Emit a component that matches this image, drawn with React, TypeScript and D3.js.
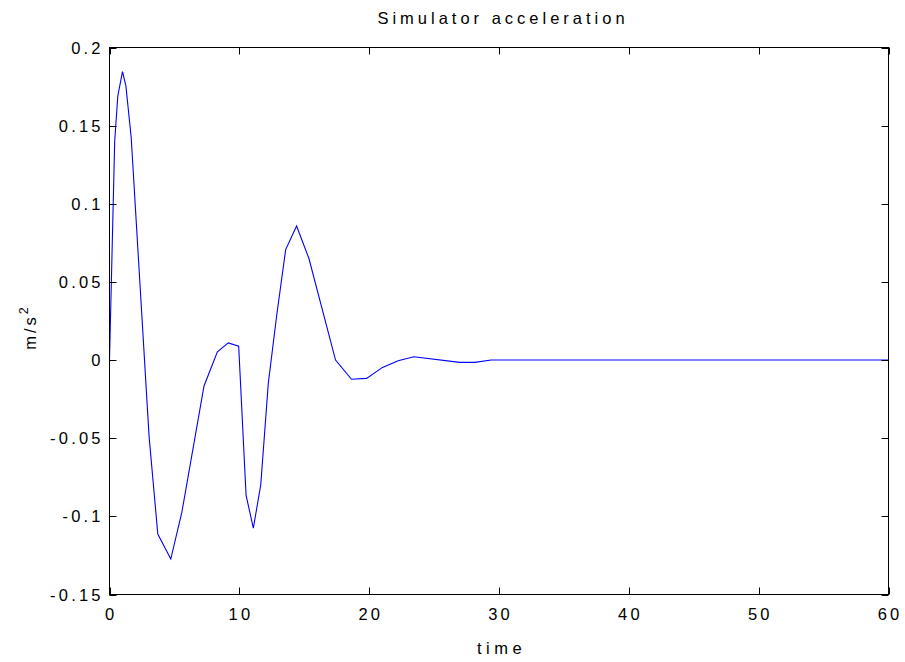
import React from "react";
import * as d3 from "d3";

// Simulated acceleration response (time in s, acceleration in m/s^2)
const timeValues = [
  0, 0.4, 0.64, 1.0, 1.26, 1.67, 3.05, 3.72, 4.72, 5.57, 7.28, 8.31, 9.15, 9.95,
  10.52, 11.08, 11.65, 12.23, 12.88, 13.57, 14.41, 15.36, 17.41, 18.64, 19.8,
  21.03, 22.23, 23.44, 26.98, 28.13, 29.4, 60,
];
const accelValues = [
  0, 0.14, 0.169, 0.1845, 0.1756, 0.1426, -0.049, -0.1113, -0.1273, -0.0975,
  -0.0166, 0.0053, 0.011, 0.0089, -0.0866, -0.1075, -0.0798, -0.0149, 0.0287,
  0.0707, 0.0858, 0.065, 0.0, -0.0123, -0.0117, -0.0047, -0.0004, 0.0021,
  -0.0015, -0.0015, 0, 0,
];

const xTicks = [0, 10, 20, 30, 40, 50, 60];
const yTicks = [-0.15, -0.1, -0.05, 0, 0.05, 0.1, 0.15, 0.2];

const W = 905;
const H = 662;
const left = 109.5;
const right = 888.5;
const top = 47.5;
const bottom = 594.5;
const tickLen = 7;
const font = "'Liberation Sans', Arial, sans-serif";
const fs = 16.5;
const tickSpacing = 3.2;

export default function App() {
  const x = d3.scaleLinear().domain([0, 60]).range([left, right]);
  const y = d3.scaleLinear().domain([-0.15, 0.2]).range([bottom, top]);
  const points = timeValues.map((t, i) => [t, accelValues[i]] as [number, number]);
  const line = d3
    .line<[number, number]>()
    .x((d) => x(d[0]))
    .y((d) => y(d[1]));

  return (
    <svg
      width={W}
      height={H}
      style={{ position: "absolute", left: 0, top: 0, background: "#fff" }}
    >
      <rect x={0} y={0} width={W} height={H} fill="#fff" />
      <path d={line(points) ?? ""} fill="none" stroke="#0000ff" strokeWidth={1.1} />
      <rect
        x={left}
        y={top}
        width={right - left}
        height={bottom - top}
        fill="none"
        stroke="#000"
        strokeWidth={1}
      />
      {xTicks.map((t) => {
        const px = Math.round(x(t)) + 0.5;
        return (
          <g key={`x${t}`}>
            <line x1={px} x2={px} y1={bottom} y2={bottom - tickLen} stroke="#000" />
            <line x1={px} x2={px} y1={top} y2={top + tickLen} stroke="#000" />
            <text
              x={x(t) + tickSpacing / 2}
              y={bottom + 25}
              textAnchor="middle"
              fontFamily={font}
              fontSize={fs}
              letterSpacing={tickSpacing}
              fill="#000"
            >
              {t}
            </text>
          </g>
        );
      })}
      {yTicks.map((v) => {
        const py = Math.round(y(v)) + 0.5;
        return (
          <g key={`y${v}`}>
            <line x1={left} x2={left + tickLen} y1={py} y2={py} stroke="#000" />
            <line x1={right} x2={right - tickLen} y1={py} y2={py} stroke="#000" />
            <text
              x={left - 9 + tickSpacing}
              y={y(v) + 6}
              textAnchor="end"
              fontFamily={font}
              fontSize={fs}
              letterSpacing={tickSpacing}
              fill="#000"
            >
              {v}
            </text>
          </g>
        );
      })}
      <text
        x={(left + right) / 2 + 2 + 2}
        y={24}
        textAnchor="middle"
        fontFamily={font}
        fontSize={fs}
        letterSpacing={4}
        fill="#000"
      >
        Simulator acceleration
      </text>
      <text
        x={(left + right) / 2 + 2.5}
        y={654}
        textAnchor="middle"
        fontFamily={font}
        fontSize={fs}
        letterSpacing={4.5}
        fill="#000"
      >
        time
      </text>
      <text
        transform={`translate(36, 327) rotate(-90)`}
        textAnchor="middle"
        fontFamily={font}
        fontSize={fs}
        letterSpacing={3}
        fill="#000"
      >
        m/s<tspan dy={-8} fontSize={12.5}>2</tspan>
      </text>
    </svg>
  );
}
